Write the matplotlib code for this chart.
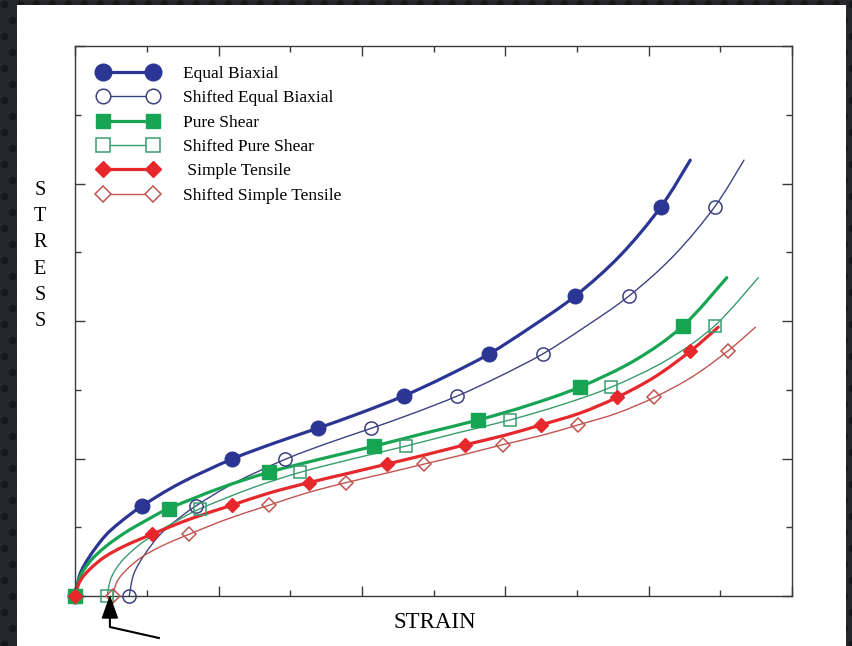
import numpy as np
import matplotlib
matplotlib.use("Agg")
import matplotlib.pyplot as plt
from matplotlib.path import Path
from matplotlib.patches import PathPatch, Rectangle, Polygon
from matplotlib.lines import Line2D
from matplotlib.ticker import MultipleLocator
from matplotlib.transforms import IdentityTransform

plt.rcParams["font.family"] = ["Liberation Serif", "DejaVu Serif"]

# ---------------------------------------------------------
# Stress-strain curves (strain, stress) in plot units
# ---------------------------------------------------------
biax_x = [0, 0.06, 0.20, 0.41, 0.62, 0.93, 1.46, 2.18, 2.79, 3.38, 3.97,
          4.58, 5.16, 5.77, 6.34, 6.97, 7.60, 8.17, 8.58]
biax_y = [0, 0.31, 0.58, 0.87, 1.07, 1.31, 1.64, 1.99, 2.23, 2.44, 2.66,
          2.91, 3.19, 3.52, 3.90, 4.36, 4.95, 5.66, 6.34]
biax_mx = [0, 0.93, 2.18, 3.38, 4.58, 5.77, 6.97, 8.17]
biax_my = [0, 1.31, 1.99, 2.44, 2.91, 3.52, 4.36, 5.66]

shear_x = [0, 0.06, 0.20, 0.41, 0.69, 0.97, 1.30, 2.02, 2.70, 3.41, 4.17,
           4.88, 5.62, 6.34, 7.04, 7.81, 8.48, 9.09]
shear_y = [0, 0.27, 0.50, 0.71, 0.92, 1.09, 1.27, 1.57, 1.80, 1.99, 2.18,
           2.37, 2.56, 2.78, 3.04, 3.43, 3.93, 4.63]
shear_mx = [0, 1.30, 2.70, 4.17, 5.62, 7.04, 8.48]
shear_my = [0, 1.27, 1.80, 2.18, 2.56, 3.04, 3.93]

tens_x = [0, 0.06, 0.20, 0.41, 0.69, 1.07, 1.60, 2.18, 2.71, 3.26, 3.83,
          4.35, 4.87, 5.44, 6.00, 6.50, 7.04, 7.56, 8.09, 8.58, 8.97]
tens_y = [0, 0.21, 0.39, 0.57, 0.73, 0.90, 1.12, 1.32, 1.50, 1.65, 1.79,
          1.92, 2.05, 2.20, 2.34, 2.49, 2.66, 2.89, 3.19, 3.56, 3.91]
tens_mx = [0, 1.07, 2.18, 3.26, 4.35, 5.44, 6.50, 7.56, 8.58]
tens_my = [0, 0.90, 1.32, 1.65, 1.92, 2.20, 2.49, 2.89, 3.56]

# strain offset of each shifted curve
biax_shift = 0.75
shear_shift = 0.44
tens_shift = 0.52

labels = ["Equal Biaxial", "Shifted Equal Biaxial", "Pure Shear",
          "Shifted Pure Shear", " Simple Tensile", "Shifted Simple Tensile"]

NAVY = "#2b3593"
NAVY_THIN = "#3d4182"
GREEN = "#17a553"
GREEN_THIN = "#3a9c6e"
RED = "#e6282c"
RED_THIN = "#c2544f"


def smooth_path(x, y):
    """Catmull-Rom through the points, as cubic Bezier segments."""
    p = np.column_stack([x, y]).astype(float)
    ext = np.vstack([p[0], p, p[-1]])
    verts = [p[0]]
    codes = [Path.MOVETO]
    for i in range(len(p) - 1):
        p0, p1, p2, p3 = ext[i], ext[i + 1], ext[i + 2], ext[i + 3]
        verts += [p1 + (p2 - p0) / 6.0, p2 - (p3 - p1) / 6.0, p2]
        codes += [Path.CURVE4] * 3
    return Path(verts, codes)


def draw_curve(ax, x, y, color, lw):
    ax.add_patch(PathPatch(smooth_path(x, y), fill=False, edgecolor=color,
                           lw=lw, capstyle="round", joinstyle="round"))


# ---------------------------------------------------------
# Figure, dark dotted frame and white sheet
# ---------------------------------------------------------
W, H = 853, 646
fig = plt.figure(figsize=(W / 100, H / 100), dpi=100)
fig.patch.set_facecolor("#26272a")

bg = fig.add_axes([0, 0, 1, 1])
bg.set_xlim(0, W)
bg.set_ylim(H, 0)
bg.axis("off")
gx, gy = np.meshgrid(np.arange(4, W, 16), np.arange(4, H, 16))
gx = gx + (np.arange(gy.shape[0])[:, None] % 2) * 8
bg.scatter(gx.ravel(), gy.ravel(), s=30, color="#17181a", lw=0)
bg.add_patch(Rectangle((17, 5), 829, H, facecolor="white", edgecolor="none"))

ax = fig.add_axes([75.5 / W, 50 / H, 716.5 / W, 550 / H])
ax.set_facecolor("none")
ax.set_xlim(0, 10)
ax.set_ylim(0, 8)

# thick original curves, thin shifted copies
draw_curve(ax, biax_x, biax_y, NAVY, 2.3)
draw_curve(ax, np.add(biax_x, biax_shift), biax_y, NAVY_THIN, 1.0)
draw_curve(ax, shear_x, shear_y, GREEN, 2.3)
draw_curve(ax, np.add(shear_x, shear_shift), shear_y, GREEN_THIN, 1.0)
draw_curve(ax, tens_x, tens_y, RED, 2.3)
draw_curve(ax, np.add(tens_x, tens_shift), tens_y, RED_THIN, 1.0)

mk = dict(linestyle="none", clip_on=False, zorder=3)
ax.plot(biax_mx, biax_my, marker="o", ms=10.5, color=NAVY, **mk)
ax.plot(np.add(biax_mx, biax_shift), biax_my, marker="o", ms=9.5,
        mfc="none", mec=NAVY_THIN, mew=1.1, **mk)
ax.plot(shear_mx, shear_my, marker="s", ms=10, color=GREEN, **mk)
ax.plot(np.add(shear_mx, shear_shift), shear_my, marker="s", ms=9,
        mfc="none", mec=GREEN_THIN, mew=1.1, **mk)
ax.plot(tens_mx, tens_my, marker="D", ms=7.6, color=RED, **mk)
ax.plot(np.add(tens_mx, tens_shift), tens_my, marker="D", ms=7,
        mfc="none", mec=RED_THIN, mew=1.1, **mk)

# axes frame: inward ticks on all four sides, no numbers
for s in ax.spines.values():
    s.set_color("#3a3a3a")
    s.set_linewidth(1.0)
ax.xaxis.set_major_locator(MultipleLocator(2))
ax.xaxis.set_minor_locator(MultipleLocator(1))
ax.yaxis.set_major_locator(MultipleLocator(2))
ax.yaxis.set_minor_locator(MultipleLocator(1))
ax.tick_params(which="both", direction="in", top=True, right=True,
               labelbottom=False, labelleft=False, color="#3a3a3a", width=1.0)
ax.tick_params(which="major", length=7)
ax.tick_params(which="minor", length=4)

# legend with a marker at each end of the line
handles = [
    Line2D([], [], color=NAVY, lw=2.3, marker="o", ms=12),
    Line2D([], [], color=NAVY_THIN, lw=1.0, marker="o", ms=10.5, mfc="white", mew=1.1),
    Line2D([], [], color=GREEN, lw=2.3, marker="s", ms=10.5),
    Line2D([], [], color=GREEN_THIN, lw=1.0, marker="s", ms=9.5, mfc="white", mew=1.1),
    Line2D([], [], color=RED, lw=2.3, marker="D", ms=8.5),
    Line2D([], [], color=RED_THIN, lw=1.0, marker="D", ms=8, mfc="white", mew=1.1),
]
fig.legend(handles, labels, loc="upper left", numpoints=2, frameon=False,
           bbox_to_anchor=(97.5 / W, 1 - 66 / H), bbox_transform=fig.transFigure,
           borderpad=0, borderaxespad=0, fontsize=12.5, handlelength=3.5,
           handletextpad=1.4, labelspacing=0.47)

fig.text((75.5 + 359) / W, 1 - 622 / H, "STRAIN", ha="center", va="center",
         fontsize=16.5)
fig.text(40 / W, 1 - 256 / H, "S\nT\nR\nE\nS\nS", ha="center", va="center",
         fontsize=14.5, linespacing=1.52, multialignment="center")

# pointer under the start of the shifted curves
tip = ax.transData.transform((np.mean([shear_shift, tens_shift]), 0))
tx, ty = tip[0], tip[1] - 1
fig.add_artist(Polygon([(tx, ty), (tx - 7.5, ty - 21), (tx + 7.5, ty - 21)],
                       closed=True, color="black", transform=IdentityTransform()))
fig.add_artist(Line2D([tx, tx, tx + 49], [ty - 21, ty - 30, ty - 41],
                      color="black", lw=1.5, transform=IdentityTransform()))

fig.savefig("out.png", dpi=100)
